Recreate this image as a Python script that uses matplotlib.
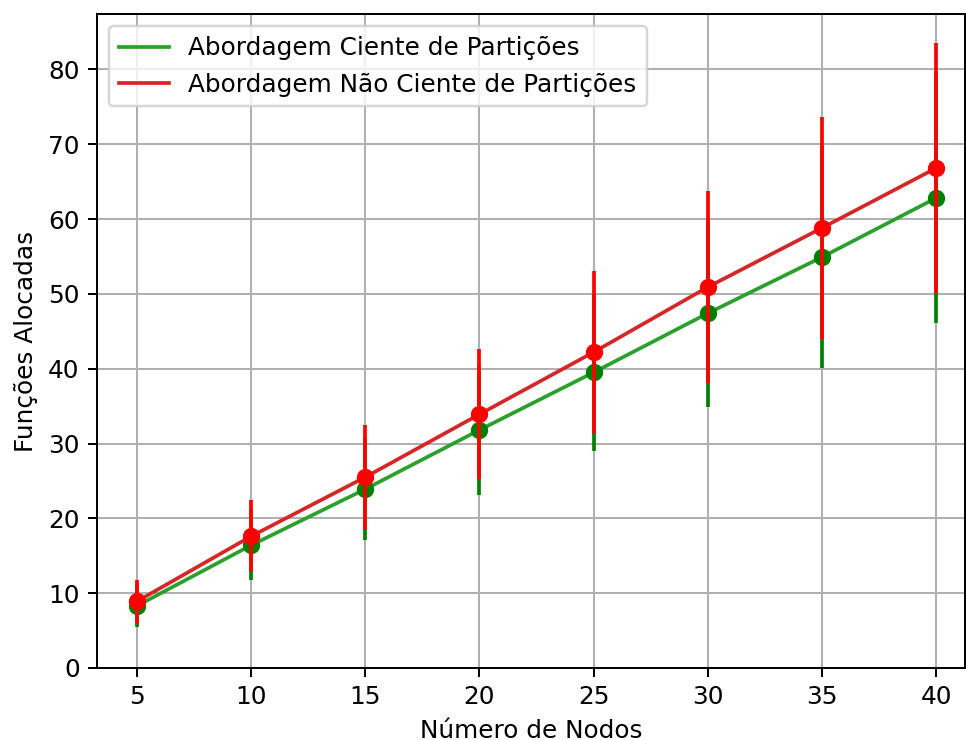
import matplotlib
matplotlib.use("Agg")
import matplotlib.pyplot as plt

nodes = [5, 10, 15, 20, 25, 30, 35, 40]
aware_mean = [8.3, 16.4, 23.9, 31.8, 39.5, 47.4, 54.9, 62.8]
aware_err = [2.8, 4.7, 6.8, 8.7, 10.5, 12.5, 14.8, 16.7]
unaware_mean = [8.9, 17.6, 25.5, 33.9, 42.2, 50.9, 58.8, 66.8]
unaware_err = [2.9, 4.8, 7.0, 8.7, 10.9, 12.8, 14.8, 16.7]

DPI = 178
fig = plt.figure(figsize=(966 / DPI, 740 / DPI), dpi=DPI)
ax = fig.add_axes([0.1004, 0.0973, 0.8986, 0.8838])

ax.plot(nodes, aware_mean, color='tab:green', lw=1.5, label='Abordagem Ciente de Partições', zorder=2)
ax.errorbar(nodes, aware_mean, yerr=aware_err, fmt='o', color='green', ms=6, lw=1.5, zorder=3)
ax.plot(nodes, unaware_mean, color='tab:red', lw=1.5, label='Abordagem Não Ciente de Partições', zorder=4)
ax.errorbar(nodes, unaware_mean, yerr=unaware_err, fmt='o', color='red', ms=6, lw=1.5, zorder=5)

ax.set_xlim(3.25, 41.27)
ax.set_ylim(0, 87.4)
ax.set_xticks(nodes)
ax.set_xlabel('Número de Nodos')
ax.set_ylabel('Funções Alocadas')
ax.grid(True)
ax.set_axisbelow(True)
ax.legend(loc='upper left')

fig.savefig('out.png', dpi=DPI)
